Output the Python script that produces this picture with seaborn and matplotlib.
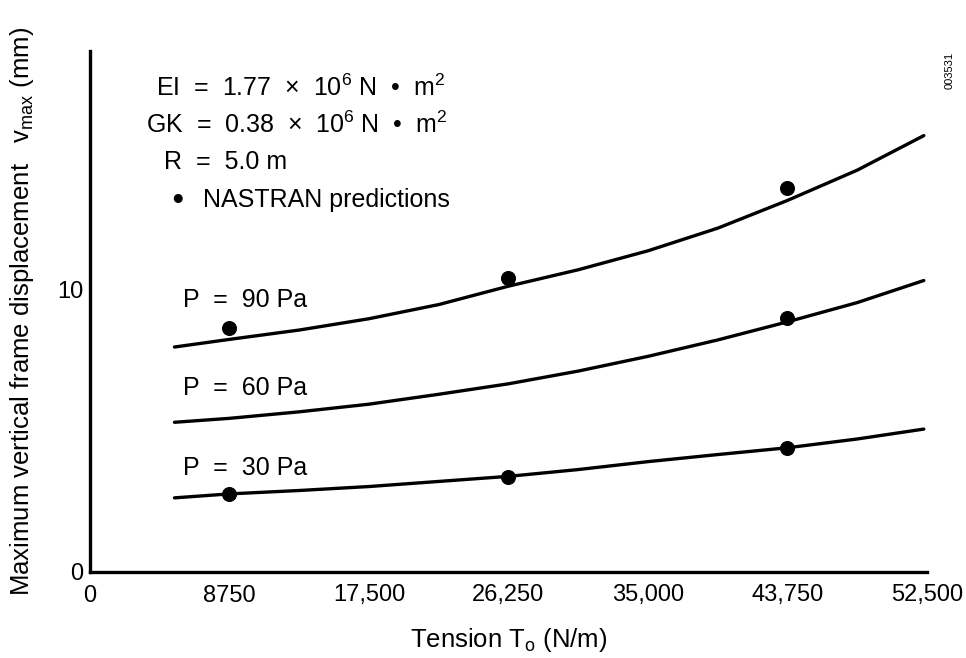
import matplotlib
matplotlib.use("Agg")
import matplotlib.pyplot as plt
import seaborn as sns
import pandas as pd

# curve readings, tension in N/m, displacement in mm
tension = [5300, 8750, 13125, 17500, 21875, 26250, 30625, 35000, 39375, 43750, 48125, 52300]
v_90 = [7.95, 8.22, 8.55, 8.95, 9.45, 10.10, 10.68, 11.35, 12.15, 13.13, 14.20, 15.42]
v_60 = [5.29, 5.43, 5.66, 5.93, 6.28, 6.65, 7.10, 7.62, 8.20, 8.84, 9.52, 10.30]
v_30 = [2.62, 2.76, 2.88, 3.02, 3.20, 3.38, 3.62, 3.90, 4.15, 4.39, 4.70, 5.05]

# NASTRAN predictions
nastran_tension = [8750, 26250, 43750, 43750, 8750, 26250, 43750]
nastran_v = [8.61, 10.38, 13.56, 8.96, 2.76, 3.37, 4.39]
nastran_p = [90, 90, 90, 60, 30, 30, 30]

x_ticks = [0, 8750, 17500, 26250, 35000, 43750, 52500]
x_labels = ["0", "8750", "17,500", "26,250", "35,000", "43,750", "52,500"]

curves = pd.DataFrame({
    "tension": tension * 3,
    "v": v_90 + v_60 + v_30,
    "p": ["90"] * len(tension) + ["60"] * len(tension) + ["30"] * len(tension),
})
points = pd.DataFrame({"tension": nastran_tension, "v": nastran_v, "p": nastran_p})

sns.set_theme(style="white")
plt.rcParams["font.family"] = ["Liberation Sans", "DejaVu Sans"]
plt.rcParams["mathtext.fontset"] = "custom"
plt.rcParams["mathtext.rm"] = "Liberation Sans"
plt.rcParams["text.color"] = "black"
plt.rcParams["axes.labelcolor"] = "black"

fig = plt.figure(figsize=(9.66, 6.58), dpi=100)
ax = fig.add_axes([90 / 966, 1 - 572 / 658, (927 - 90) / 966, (572 - 51) / 658])

sns.lineplot(data=curves, x="tension", y="v", units="p", estimator=None,
             color="black", linewidth=2.4, ax=ax)
for line in ax.lines:
    line.set_solid_joinstyle("round")
sns.scatterplot(data=points, x="tension", y="v", color="black", s=100,
                edgecolor="black", zorder=5, ax=ax)

ax.set_xlim(0, 52500)
ax.set_ylim(0, 18.41)
ax.set_xticks(x_ticks)
ax.set_xticklabels(x_labels, fontsize=17)
ax.set_yticks([0, 10, 18.41])
ax.set_yticklabels(["0", "10", ""], fontsize=17)
ax.tick_params(direction="in", length=10, width=2, colors="black", pad=9)
ax.tick_params(axis="y", pad=5)

for side in ["top", "right"]:
    ax.spines[side].set_visible(False)
for side in ["left", "bottom"]:
    ax.spines[side].set_linewidth(2.4)
    ax.spines[side].set_color("black")

ax.set_xlabel(r"Tension T$\mathregular{_o}$ (N/m)", fontsize=18.5, labelpad=14)
ax.set_ylabel(r"Maximum vertical frame displacement   v$\mathregular{_{max}}$ (mm)",
              fontsize=18.5)
ax.yaxis.set_label_coords(-0.064, 0.50)

# parameter block
ax.text(156 / 966, 1 - 88 / 658, "EI  =  1.77  ×  10$\\mathregular{^6}$ N  •  m$\\mathregular{^2}$",
        transform=fig.transFigure, fontsize=18, va="center")
ax.text(146 / 966, 1 - 125 / 658, "GK  =  0.38  ×  10$\\mathregular{^6}$ N  •  m$\\mathregular{^2}$",
        transform=fig.transFigure, fontsize=18, va="center")
ax.text(164 / 966, 1 - 162 / 658, "R  =  5.0 m",
        transform=fig.transFigure, fontsize=18, va="center")
ax.text(178 / 966, 1 - 198 / 658, "●", transform=fig.transFigure,
        fontsize=15, va="center", ha="center")
ax.text(203 / 966, 1 - 200 / 658, "NASTRAN predictions",
        transform=fig.transFigure, fontsize=18, va="center")

for label, ypx in [("P  =  90 Pa", 300), ("P  =  60 Pa", 388), ("P  =  30 Pa", 468)]:
    ax.text(183 / 966, 1 - ypx / 658, label, transform=fig.transFigure,
            fontsize=18, va="center")

fig.text(950 / 966, 1 - 70 / 658, "003531", rotation=90, fontsize=8,
         ha="center", va="center")

fig.savefig("out.png", dpi=100)
